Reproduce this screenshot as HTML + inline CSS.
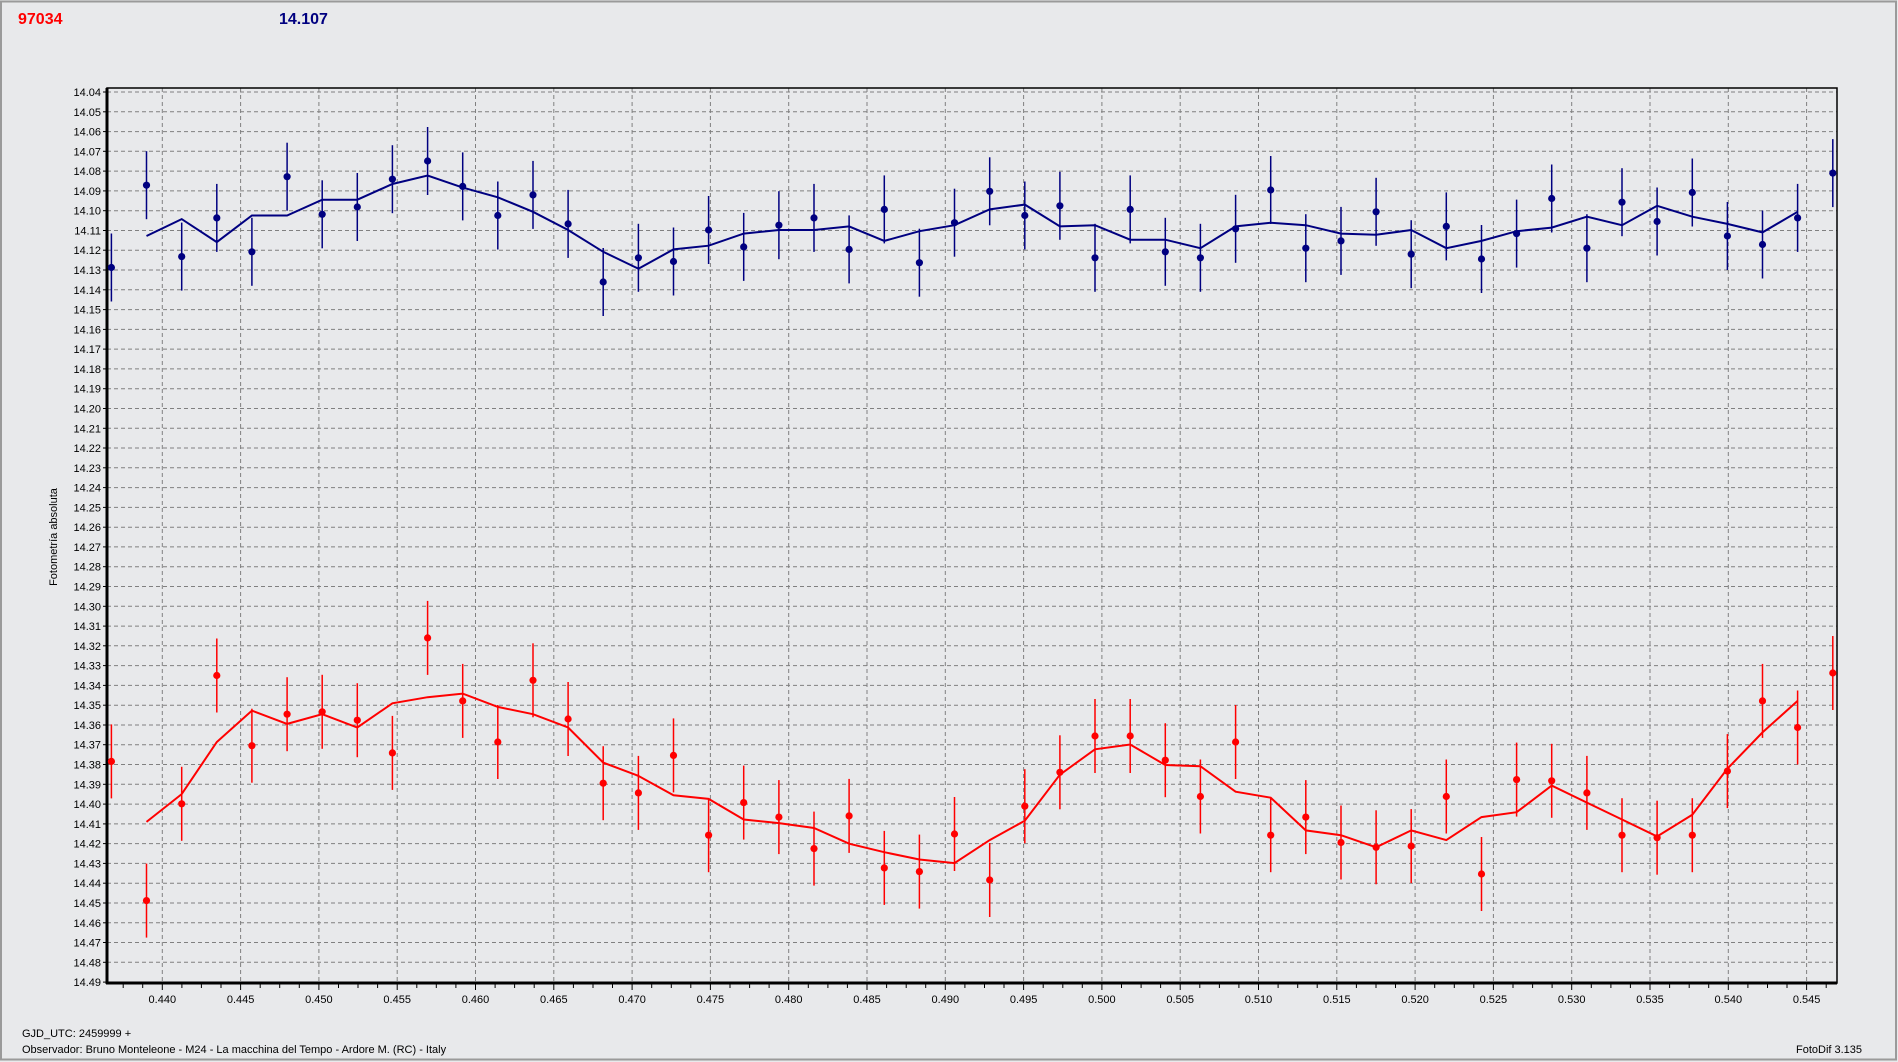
<!DOCTYPE html>
<html><head><meta charset="utf-8">
<style>
html,body{margin:0;padding:0;background:#e8e9eb;}
svg{display:block;font-family:"Liberation Sans",sans-serif;}
</style></head>
<body>
<svg id="s" width="1898" height="1062" xmlns="http://www.w3.org/2000/svg">
<rect x="0" y="0" width="1898" height="1062" fill="#e8e9eb"/>
<rect x="1" y="1.5" width="1895" height="1058" fill="none" stroke="#9a9a9a" stroke-width="2"/>
<text x="18" y="24" font-size="16" font-weight="bold" fill="#ff0000">97034</text>
<text x="279" y="24" font-size="16" font-weight="bold" fill="#000080">14.107</text>
<text transform="translate(57,537) rotate(-90)" font-size="11" text-anchor="middle" fill="#000">Fotometría absoluta</text>
<text x="22" y="1037" font-size="11" fill="#000">GJD_UTC: 2459999 +</text>
<text x="22" y="1053" font-size="11" fill="#000">Observador: Bruno Monteleone - M24 - La macchina del Tempo - Ardore M. (RC) - Italy</text>
<text x="1796" y="1053" font-size="11" fill="#000">FotoDif 3.135</text>
<g id="g"></g>
</svg>
<script>
var g=document.getElementById('g'),h='';
var L=107,R=1837,T=88,B=983;
function Y(m){return 92+(m-14.04)*1978;}
function X(t){return 162.3+(t-0.44)*15660;}
// horizontal grid + y labels
for(var i=0;i<=45;i++){var m=14.04+i*0.01,y=Y(m).toFixed(1);
 h+='<line x1="'+L+'" x2="'+R+'" y1="'+y+'" y2="'+y+'" stroke="#808080" stroke-dasharray="4,3"/>';
 h+='<line x1="103" x2="107" y1="'+y+'" y2="'+y+'" stroke="#000"/>';
 h+='<text x="101" y="'+(Y(m)+4).toFixed(1)+'" font-size="11" text-anchor="end" fill="#000">'+m.toFixed(2)+'</text>';}
for(var k=0;k<=21;k++){var t=0.44+k*0.005,x=X(t);if(x>R)break;x=x.toFixed(1);
 h+='<line x1="'+x+'" x2="'+x+'" y1="'+T+'" y2="'+B+'" stroke="#808080" stroke-dasharray="4,3"/>';
 h+='<text x="'+x+'" y="1003" font-size="11" text-anchor="middle" fill="#000">'+t.toFixed(3)+'</text>';}
for(var x=X(0.44)-4*19.575;x<R;x+=19.575){if(x<L)continue;var big=Math.abs(((x-162.3)/78.3)-Math.round((x-162.3)/78.3))<0.05;
 h+='<line x1="'+x.toFixed(1)+'" x2="'+x.toFixed(1)+'" y1="'+B+'" y2="'+(B+(big?7:5))+'" stroke="#000"/>';}
h+='<rect x="'+L+'" y="'+T+'" width="'+(R-L)+'" height="'+(B-T)+'" fill="none" stroke="#000" stroke-width="1.5"/>';
h+='<line x1="'+L+'" x2="'+L+'" y1="'+T+'" y2="'+(B+1)+'" stroke="#000" stroke-width="3"/>';
h+='<line x1="'+(L-1)+'" x2="'+R+'" y1="'+B+'" y2="'+B+'" stroke="#000" stroke-width="3"/>';
var s=1.2105;
var bp=[221,153,212,180,208,146,177,171,148,133,154,178,161,185,233,213,216,190,204,186,180,206,173,217,184,158,178,170,213,173,208,213,189,157,205,199,175,210,187,214,193,164,205,167,183,159,195,202,180,143];
var bl=[195,181,200,178,178,165,165,152,145,155,163,175,190,208,222,206,203,193,190,190,187,199,191,186,173,169,187,186,198,198,205,187,184,186,193,194,190,205,199,191,188,179,186,170,179,185,192,175];
var rp=[629,744,664,558,616,590,588,595,622,527,579,613,562,594,647,655,624,690,663,675,701,674,717,720,689,727,666,638,608,608,628,658,613,690,675,696,700,699,658,722,644,645,655,690,692,690,637,579,601,556];
var rl=[679,656,613,587,598,590,601,581,576,573,584,590,601,630,641,657,660,677,680,684,697,704,710,713,694,678,640,619,615,632,633,654,659,686,690,700,686,694,675,671,649,663,677,691,673,635,605,579];
function px(i){return 111.4+i*35.13;}
function series(P,Ln,c,e){
 var pts=Ln.map(function(v,i){return px(i+1).toFixed(1)+','+(v*s).toFixed(1);}).join(' ');
 for(var i=0;i<P.length;i++){var x=px(i).toFixed(1),y=P[i]*s;
  h+='<line x1="'+x+'" x2="'+x+'" y1="'+(y-e).toFixed(1)+'" y2="'+(y+e).toFixed(1)+'" stroke="'+c+'" stroke-width="1.5"/>';}
 h+='<polyline points="'+pts+'" fill="none" stroke="'+c+'" stroke-width="2"/>';
 for(var i=0;i<P.length;i++){h+='<circle cx="'+px(i).toFixed(1)+'" cy="'+(P[i]*s).toFixed(1)+'" r="3.6" fill="'+c+'"/>';}
}
series(bp,bl,'#000080',34);
series(rp,rl,'#ff0000',37);
g.innerHTML=h;
</script>
</body></html>
